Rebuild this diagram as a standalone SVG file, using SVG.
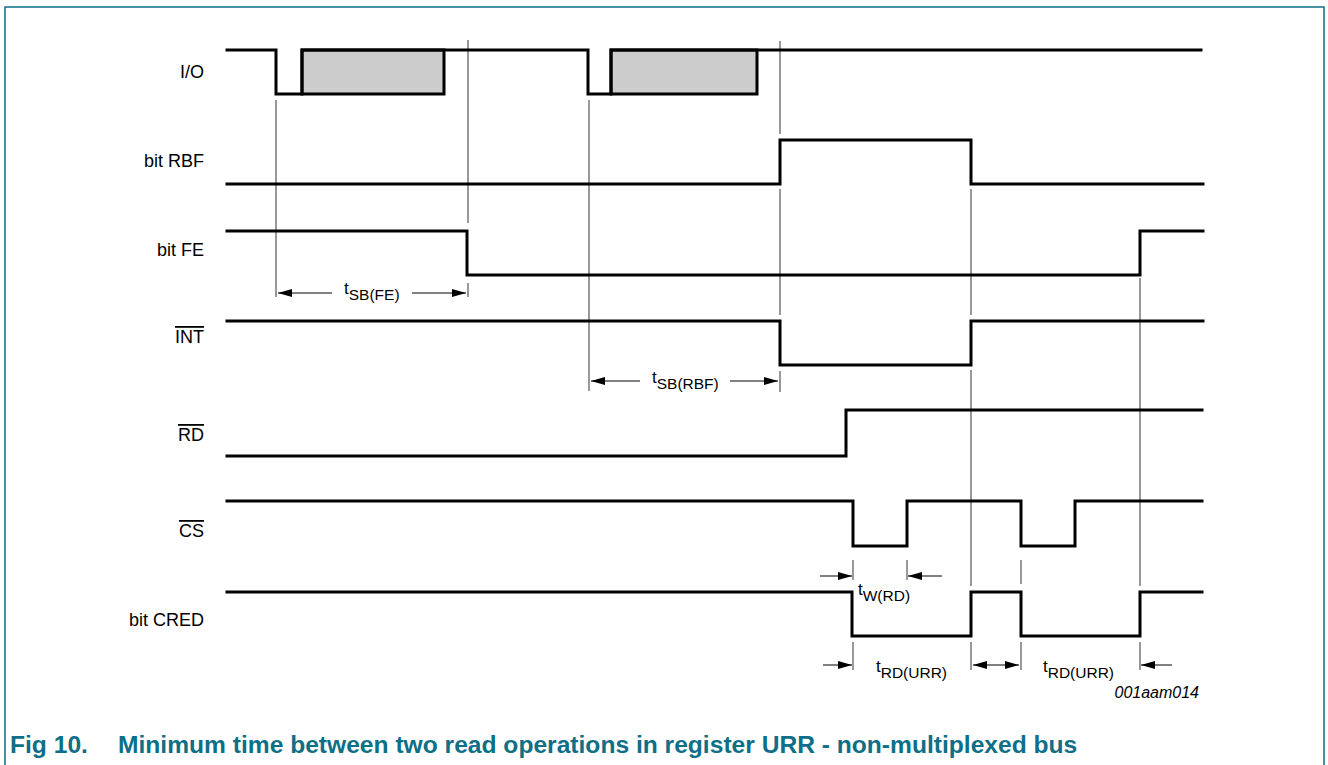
<svg xmlns="http://www.w3.org/2000/svg" width="1328" height="765" viewBox="0 0 1328 765">
<style>
.sig{fill:none;stroke:#000;stroke-width:3;stroke-linejoin:miter;stroke-linecap:square}
.box{fill:#cccccc;stroke:#000;stroke-width:3}
.guide{stroke:#555;stroke-width:1.2;fill:none}
.dim{stroke:#000;stroke-width:1;fill:none}
.lbl{font-family:"Liberation Sans",Arial,sans-serif;font-size:18px;fill:#000;text-anchor:end}
.ov{text-decoration:overline}
.t{font-family:"Liberation Sans",Arial,sans-serif;font-size:17px;fill:#000}
.sub{font-size:15.5px}
.code{font-family:"Liberation Sans",Arial,sans-serif;font-size:16px;font-style:italic;fill:#000;text-anchor:end}
.cap{font-family:"Liberation Sans",Arial,sans-serif;font-size:24.6px;font-weight:bold;fill:#0e6f86}
</style>
<defs>
<marker id="ah" markerUnits="userSpaceOnUse" markerWidth="14" markerHeight="8" refX="14" refY="4" orient="auto-start-reverse">
<path d="M0,0 L14,4 L0,8 z" fill="#000"/>
</marker>
</defs>
<g id="frame" fill="none" stroke="#0e6f86" stroke-width="1.5">
<path d="M5,765 V7 H1324 V765"/>
</g>
<g id="guides">
<path class="guide" d="M276,100 V297"/>
<path class="guide" d="M468,40 V223 M468,283 V297"/>
<path class="guide" d="M589,100 V391"/>
<path class="guide" d="M780,41 V134 M780,189 V315 M780,371 V392"/>
<path class="guide" d="M971,189 V315 M971,370 V586 M971,642 V670"/>
<path class="guide" d="M1140,278 V586 M1140,642 V670"/>
<path class="guide" d="M1021,560 V584 M1021,642 V670"/>
<path class="guide" d="M853,560 V580 M853,642 V670"/>
<path class="guide" d="M907,560 V580"/>
</g>
<g id="sig-io">
<text class="lbl" x="204" y="78">I/O</text>
<rect class="box" x="302" y="50" width="142" height="44"/>
<rect class="box" x="611" y="50" width="146" height="44"/>
<path class="sig" d="M227,50 H276 V94 H302 V50 H588 V94 H611 V50 H1201"/>
</g>
<g id="sig-rbf">
<text class="lbl" x="204" y="167">bit RBF</text>
<path class="sig" d="M227,184 H780 V140 H971 V184 H1203"/>
</g>
<g id="sig-fe">
<text class="lbl" x="204" y="256">bit FE</text>
<path class="sig" d="M227,231 H467 V275 H1140 V231 H1203"/>
</g>
<g id="sig-int">
<text class="lbl ov" x="204" y="343">INT</text>
<path class="sig" d="M227,321 H780 V365 H971 V321 H1203"/>
</g>
<g id="sig-rd">
<text class="lbl ov" x="204" y="441">RD</text>
<path class="sig" d="M227,456 H846 V410 H1202"/>
</g>
<g id="sig-cs">
<text class="lbl ov" x="204" y="537">CS</text>
<path class="sig" d="M227,501 H853 V546 H907 V501 H1021 V546 H1075 V501 H1202"/>
</g>
<g id="sig-cred">
<text class="lbl" x="204" y="626">bit CRED</text>
<path class="sig" d="M227,592 H852 V636 H971 V592 H1021 V636 H1140 V592 H1202"/>
</g>
<g id="connectors">
<line class="dim" x1="332" y1="293" x2="278" y2="293" marker-end="url(#ah)"/>
<line class="dim" x1="412" y1="293" x2="466" y2="293" marker-end="url(#ah)"/>
<line class="dim" x1="640" y1="381" x2="591" y2="381" marker-end="url(#ah)"/>
<line class="dim" x1="730" y1="381" x2="778" y2="381" marker-end="url(#ah)"/>
<line class="dim" x1="820" y1="576" x2="852" y2="576" marker-end="url(#ah)"/>
<line class="dim" x1="942" y1="576" x2="908" y2="576" marker-end="url(#ah)"/>
<line class="dim" x1="823" y1="665" x2="852" y2="665" marker-end="url(#ah)"/>
<line class="dim" x1="973" y1="665" x2="1019" y2="665" marker-start="url(#ah)" marker-end="url(#ah)"/>
<line class="dim" x1="1172" y1="665" x2="1141" y2="665" marker-end="url(#ah)"/>
</g>
<g id="dim-labels">
<text class="t" x="344" y="294">t<tspan class="sub" dy="6">SB(FE)</tspan></text>
<text class="t" x="652" y="383">t<tspan class="sub" dy="6">SB(RBF)</tspan></text>
<text class="t" x="858" y="595">t<tspan class="sub" dy="6">W(RD)</tspan></text>
<text class="t" x="876" y="672">t<tspan class="sub" dy="6">RD(URR)</tspan></text>
<text class="t" x="1043" y="672">t<tspan class="sub" dy="6">RD(URR)</tspan></text>
</g>
<text class="code" x="1199" y="698">001aam014</text>
<text class="cap" x="10" y="753">Fig 10.<tspan x="118">Minimum time between two read operations in register URR - non-multiplexed bus</tspan></text>
</svg>
